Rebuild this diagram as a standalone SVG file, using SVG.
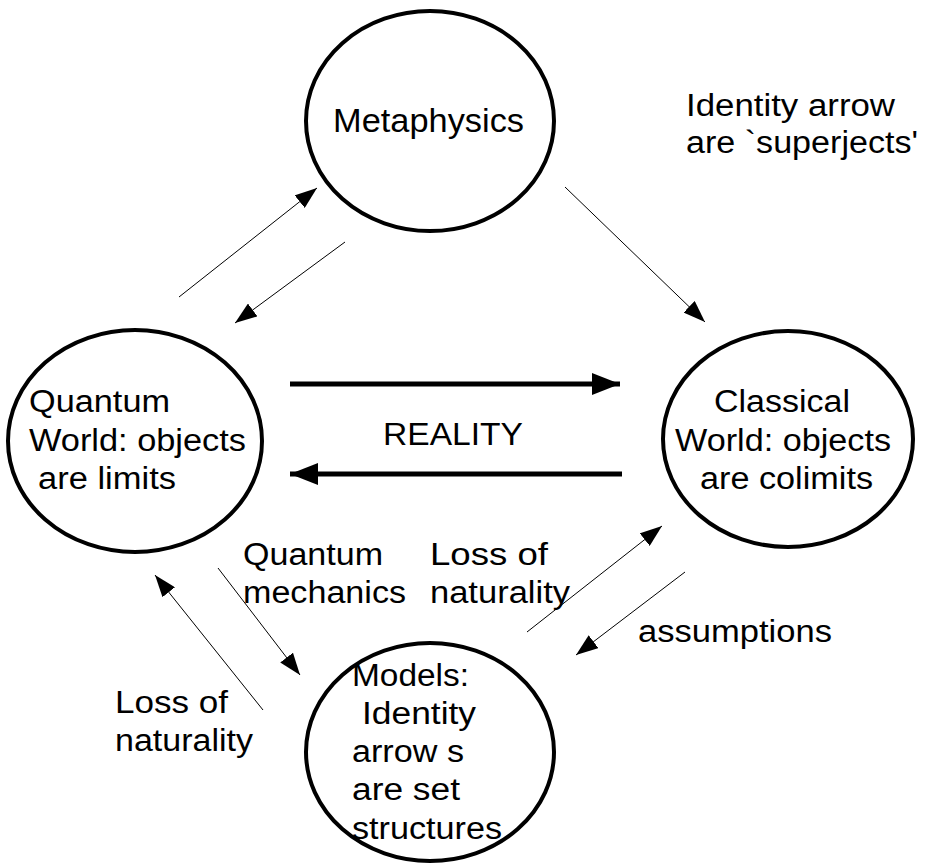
<svg xmlns="http://www.w3.org/2000/svg" width="928" height="865" viewBox="0 0 928 865" xml:space="preserve">
<style>
  text { font-family: "Liberation Sans", Arial, sans-serif; font-size: 31px; fill: #000; }
  .node { fill: #fff; stroke: #000; stroke-width: 4; }
  .thin { stroke: #000; stroke-width: 1; fill: none; }
  .bold { stroke: #000; stroke-width: 5; fill: none; }
</style>
<defs>
  <marker id="ah" markerUnits="userSpaceOnUse" markerWidth="24" markerHeight="16" refX="22" refY="8" orient="auto">
    <path d="M0,0 L22,8 L0,16 Z" fill="#000"/>
  </marker>
  <marker id="ahb" markerUnits="userSpaceOnUse" markerWidth="30" markerHeight="22" refX="28" refY="11" orient="auto">
    <path d="M0,0 L28,11 L0,22 Z" fill="#000"/>
  </marker>
</defs>
<rect width="928" height="865" fill="#fff"/>
<g id="metaphysics">
  <ellipse class="node" cx="430" cy="121" rx="124" ry="110"/>
  <text x="333" y="132" textLength="191" lengthAdjust="spacingAndGlyphs" style="font-size:33px">Metaphysics</text>
</g>
<g id="quantum">
  <ellipse class="node" cx="135" cy="441" rx="127" ry="111"/>
  <text x="29" y="412" textLength="141" lengthAdjust="spacingAndGlyphs">Quantum</text>
  <text x="29" y="451" textLength="217" lengthAdjust="spacingAndGlyphs">World: objects</text>
  <text x="38" y="489" textLength="138" lengthAdjust="spacingAndGlyphs">are limits</text>
</g>
<g id="classical">
  <ellipse class="node" cx="788" cy="439" rx="125" ry="108"/>
  <text x="714" y="412" textLength="136" lengthAdjust="spacingAndGlyphs">Classical</text>
  <text x="675" y="451" textLength="216" lengthAdjust="spacingAndGlyphs">World: objects</text>
  <text x="700" y="489" textLength="173" lengthAdjust="spacingAndGlyphs">are colimits</text>
</g>
<g id="models">
  <ellipse class="node" cx="430" cy="752" rx="124" ry="109"/>
  <text x="352" y="686" textLength="117" lengthAdjust="spacingAndGlyphs">Models:</text>
  <text x="362" y="724" textLength="114" lengthAdjust="spacingAndGlyphs">Identity</text>
  <text x="352" y="762" textLength="112" lengthAdjust="spacingAndGlyphs">arrow s</text>
  <text x="352" y="800" textLength="108" lengthAdjust="spacingAndGlyphs">are set</text>
  <text x="352" y="839" textLength="150" lengthAdjust="spacingAndGlyphs">structures</text>
</g>
<g id="labels">
  <text x="686" y="116" textLength="209" lengthAdjust="spacingAndGlyphs">Identity arrow</text>
  <text x="686" y="153" textLength="232" lengthAdjust="spacingAndGlyphs">are `superjects'</text>
  <text x="383" y="445" textLength="140" lengthAdjust="spacingAndGlyphs">REALITY</text>
  <text x="243" y="565" textLength="140" lengthAdjust="spacingAndGlyphs">Quantum</text>
  <text x="243" y="603" textLength="163" lengthAdjust="spacingAndGlyphs">mechanics</text>
  <text x="430" y="565" textLength="118" lengthAdjust="spacingAndGlyphs">Loss of</text>
  <text x="430" y="603" textLength="140" lengthAdjust="spacingAndGlyphs">naturality</text>
  <text x="638" y="642" textLength="194" lengthAdjust="spacingAndGlyphs">assumptions</text>
  <text x="115" y="713" textLength="113" lengthAdjust="spacingAndGlyphs">Loss of</text>
  <text x="115" y="751" textLength="138" lengthAdjust="spacingAndGlyphs">naturality</text>
</g>
<g id="connectors">
  <line class="thin" x1="179" y1="297" x2="317" y2="188" marker-end="url(#ah)"/>
  <line class="thin" x1="345" y1="242" x2="235" y2="323" marker-end="url(#ah)"/>
  <line class="thin" x1="565" y1="187" x2="705" y2="322" marker-end="url(#ah)"/>
  <line class="bold" x1="290" y1="384" x2="620" y2="384" marker-end="url(#ahb)"/>
  <line class="bold" x1="622" y1="474" x2="290" y2="474" marker-end="url(#ahb)"/>
  <line class="thin" x1="218" y1="568" x2="300" y2="675" marker-end="url(#ah)"/>
  <line class="thin" x1="263" y1="710" x2="155" y2="575" marker-end="url(#ah)"/>
  <line class="thin" x1="527" y1="632" x2="662" y2="526" marker-end="url(#ah)"/>
  <line class="thin" x1="685" y1="572" x2="576" y2="655" marker-end="url(#ah)"/>
</g>
</svg>
